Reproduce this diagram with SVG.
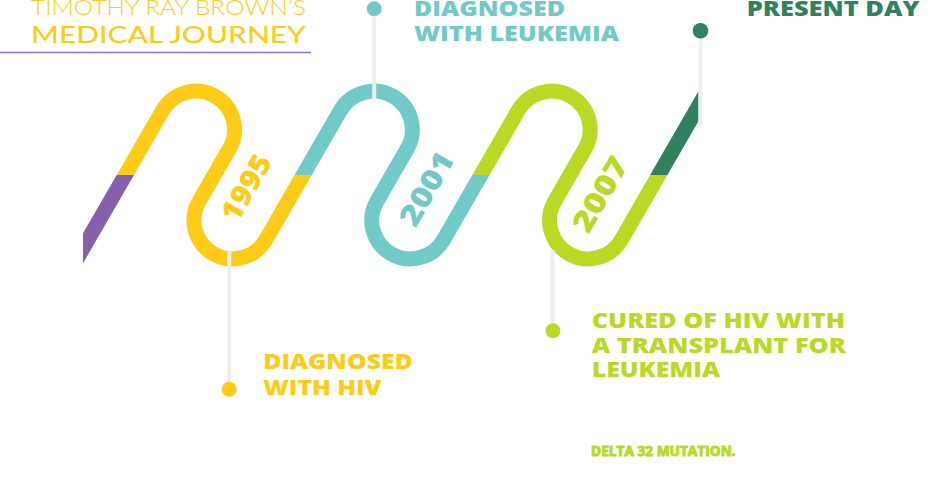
<svg xmlns="http://www.w3.org/2000/svg" width="949" height="493" viewBox="0 0 949 493">
<style>
.y{fill:#FECC18;stroke:#FECC18}
.t{fill:#71CAC8;stroke:#71CAC8}
.l{fill:#B9DA25;stroke:#B9DA25}
.g{fill:#318160;stroke:#318160}
.p{fill:#8760AB;stroke:#8760AB}
path.seg{fill:none;stroke-width:15;stroke-linecap:butt}
.conn{stroke:#EEEEEE;stroke-width:4;fill:none}
text.head{font-family:'Open Sans','Liberation Sans',sans-serif;font-weight:800;font-size:21.5px;stroke:none}
text.year{font-family:'Open Sans','Liberation Sans',sans-serif;font-weight:800;font-size:29px;stroke:none}
circle.dot{stroke:none}
</style>
<defs>
<clipPath id="cp"><rect x="83" y="175" width="80" height="130"/></clipPath>
<clipPath id="cy"><polygon points="96.2,0 281.2,0 281.2,175 321.2,175 321.2,300 176.2,300 176.2,175 96.2,175"/></clipPath>
<clipPath id="ct"><polygon points="274,0 459,0 459,175 499,175 499,300 354,300 354,175 274,175"/></clipPath>
<clipPath id="cl"><polygon points="451.8,0 636.8,0 636.8,175 676.8,175 676.8,300 531.8,300 531.8,175 451.8,175"/></clipPath>
<clipPath id="cg"><rect x="600" y="0" width="98.5" height="175"/></clipPath>
</defs>
<g id="title">
<text x="31" y="15" font-family="Lato,'Open Sans',sans-serif" font-weight="300" font-size="21" fill="#FECC18" textLength="275" lengthAdjust="spacingAndGlyphs">TIMOTHY RAY BROWN’S</text>
<text x="31" y="43.3" font-family="Lato,'Open Sans',sans-serif" font-weight="500" font-size="23" fill="#FECC18" textLength="275" lengthAdjust="spacingAndGlyphs">MEDICAL JOURNEY</text>
<line x1="0" y1="52.5" x2="311" y2="52.5" stroke="#9575C0" stroke-width="1.6"/>
</g>
<g id="wave">
<path class="seg p" clip-path="url(#cp)" d="M131.11,165 L60,288.2"/>
<path class="seg y" clip-path="url(#cy)" d="M119.57,185 L162.86,110.05 A38.5,38.5 0 0 1 229.54,148.55 L198.96,201.45 A38.5,38.5 0 0 0 265.64,239.95 L308.91,165"/>
<path class="seg t" clip-path="url(#ct)" d="M297.37,185 L340.66,110.05 A38.5,38.5 0 0 1 407.34,148.55 L376.76,201.45 A38.5,38.5 0 0 0 443.44,239.95 L486.71,165"/>
<path class="seg l" clip-path="url(#cl)" d="M475.17,185 L518.46,110.05 A38.5,38.5 0 0 1 585.14,148.55 L554.56,201.45 A38.5,38.5 0 0 0 621.24,239.95 L664.51,165"/>
<path class="seg g" clip-path="url(#cg)" d="M652.97,185 L720,68.9"/>
</g>
<g id="connectors">
<line class="conn" x1="229.2" y1="251.5" x2="229.2" y2="389"/>
<line class="conn" x1="374.2" y1="9" x2="374.2" y2="100"/>
<line class="conn" x1="552.5" y1="250" x2="552.5" y2="331"/>
<line class="conn" x1="700.5" y1="30.8" x2="700.5" y2="126"/>
</g>
<g id="m1995">
<text class="year y" text-anchor="middle" transform="translate(246,187.5) rotate(-60)" y="10.5" textLength="72" lengthAdjust="spacingAndGlyphs">1995</text>
<circle class="dot y" cx="229.2" cy="389.2" r="7.5"/>
<text class="head y" x="263.3" y="369.3" textLength="149.4" lengthAdjust="spacingAndGlyphs">DIAGNOSED</text>
<text class="head y" x="263.3" y="395" textLength="118.4" lengthAdjust="spacingAndGlyphs">WITH HIV</text>
</g>
<g id="m2001">
<text class="year t" text-anchor="middle" transform="translate(426.5,188.5) rotate(-60)" y="10.5" textLength="80" lengthAdjust="spacingAndGlyphs">2001</text>
<circle class="dot t" cx="374.2" cy="8.8" r="7.5"/>
<text class="head t" x="414" y="16" textLength="151" lengthAdjust="spacingAndGlyphs">DIAGNOSED</text>
<text class="head t" x="414" y="41" textLength="205" lengthAdjust="spacingAndGlyphs">WITH LEUKEMIA</text>
</g>
<g id="m2007">
<text class="year l" text-anchor="middle" transform="translate(600,194) rotate(-60)" y="10.5" textLength="82" lengthAdjust="spacingAndGlyphs">2007</text>
<circle class="dot l" cx="553" cy="330.8" r="7.5"/>
<text class="head l" x="591.7" y="328.3" textLength="253.3" lengthAdjust="spacingAndGlyphs">CURED OF HIV WITH</text>
<text class="head l" x="591.7" y="352.7" textLength="254.3" lengthAdjust="spacingAndGlyphs">A TRANSPLANT FOR</text>
<text class="head l" x="591.7" y="377.3" textLength="128.3" lengthAdjust="spacingAndGlyphs">LEUKEMIA</text>
<text class="l" x="591" y="456" font-family="'Open Sans','Liberation Sans',sans-serif" font-weight="700" font-size="13.5" stroke="none" textLength="144.7" lengthAdjust="spacingAndGlyphs">DELTA 32 MUTATION.</text>
</g>
<g id="present">
<circle class="dot g" cx="700.5" cy="30.8" r="7.8"/>
<text class="head g" x="746.7" y="16" textLength="172.6" lengthAdjust="spacingAndGlyphs">PRESENT DAY</text>
</g>
</svg>
